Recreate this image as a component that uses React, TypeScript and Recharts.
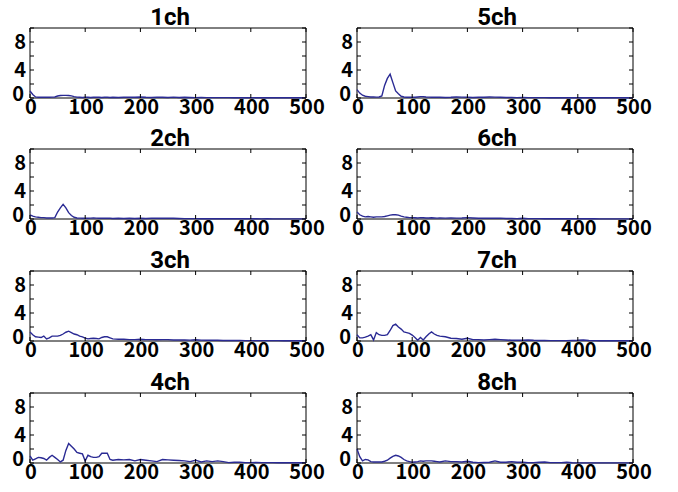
import React from 'react';
import { LineChart, Line, XAxis, YAxis, ReferenceArea } from 'recharts';

// x positions (frequency bins)
const xs = [
  0, 5, 10, 15, 20, 25, 30, 35, 40, 45, 50,
  55, 60, 65, 70, 75, 80, 85, 90, 95, 100,
  105, 110, 115, 120, 125, 130, 135, 140, 145, 150,
  160, 170, 180, 190, 200, 210, 220, 230, 240, 250,
  260, 270, 280, 290, 300, 310, 320, 330, 340, 350,
  360, 370, 380, 390, 400, 410, 420, 430, 440, 450,
  460, 470, 480, 490, 500,
];

const ch1 = [
  1.0, 0.5, 0.15, 0.1, 0.1, 0.12, 0.1, 0.1, 0.12, 0.15, 0.28,
  0.35, 0.38, 0.38, 0.35, 0.3, 0.2, 0.12, 0.1, 0.08, 0.1,
  0.1, 0.08, 0.1, 0.12, 0.1, 0.08, 0.1, 0.1, 0.08, 0.1,
  0.08, 0.1, 0.12, 0.1, 0.15, 0.1, 0.08, 0.1, 0.1, 0.08,
  0.12, 0.08, 0.1, 0.08, 0.06, 0.08, 0.06, 0.05, 0.06, 0.05,
  0.05, 0.04, 0.05, 0.04, 0.04, 0.05, 0.04, 0.03, 0.04, 0.03,
  0.03, 0.03, 0.03, 0.03, 0.02,
];

const ch2 = [
  0.6, 0.4, 0.3, 0.25, 0.2, 0.2, 0.15, 0.15, 0.15, 0.2, 1.0,
  1.6, 2.1, 1.6, 0.9, 0.5, 0.25, 0.15, 0.12, 0.1, 0.1,
  0.1, 0.12, 0.15, 0.12, 0.1, 0.1, 0.12, 0.1, 0.1, 0.08,
  0.1, 0.08, 0.1, 0.08, 0.1, 0.08, 0.1, 0.12, 0.1, 0.12,
  0.1, 0.08, 0.06, 0.05, 0.05, 0.04, 0.05, 0.04, 0.04, 0.03,
  0.03, 0.03, 0.04, 0.03, 0.03, 0.03, 0.02, 0.03, 0.02, 0.02,
  0.02, 0.02, 0.02, 0.02, 0.02,
];

const ch3 = [
  1.3, 0.9, 0.6, 0.55, 0.5, 0.7, 0.3, 0.45, 0.7, 0.7, 0.7,
  0.8, 1.0, 1.25, 1.4, 1.2, 1.0, 0.9, 0.7, 0.6, 0.4,
  0.3, 0.35, 0.4, 0.35, 0.3, 0.5, 0.6, 0.6, 0.45, 0.3,
  0.25, 0.25, 0.2, 0.2, 0.25, 0.2, 0.2, 0.18, 0.2, 0.2,
  0.15, 0.15, 0.15, 0.12, 0.18, 0.12, 0.1, 0.1, 0.1, 0.08,
  0.08, 0.08, 0.07, 0.06, 0.06, 0.06, 0.05, 0.05, 0.05, 0.05,
  0.04, 0.04, 0.04, 0.04, 0.03,
];

const ch4 = [
  1.0, 0.4, 0.6, 0.8, 0.75, 0.65, 0.4, 0.8, 1.1, 0.8, 0.5,
  0.15, 0.4, 1.8, 2.8, 2.4, 2.0, 1.5, 1.4, 1.3, 0.3,
  1.1, 0.9, 0.8, 0.8, 0.9, 1.4, 1.4, 1.4, 0.5, 0.4,
  0.5, 0.45, 0.5, 0.3, 0.5, 0.4, 0.3, 0.2, 0.5, 0.45,
  0.4, 0.35, 0.3, 0.2, 0.4, 0.15, 0.3, 0.2, 0.3, 0.2,
  0.05, 0.1, 0.1, 0.05, 0.05, 0.08, 0.05, 0.05, 0.05, 0.04,
  0.03, 0.03, 0.03, 0.03, 0.03,
];

const ch5 = [
  1.2, 0.7, 0.4, 0.25, 0.2, 0.15, 0.15, 0.12, 0.15, 0.3, 1.8,
  2.8, 3.4, 2.2, 1.0, 0.6, 0.25, 0.15, 0.1, 0.1, 0.1,
  0.1, 0.15, 0.2, 0.2, 0.15, 0.12, 0.1, 0.1, 0.1, 0.1,
  0.08, 0.1, 0.15, 0.12, 0.1, 0.08, 0.1, 0.1, 0.15, 0.12,
  0.1, 0.08, 0.08, 0.06, 0.08, 0.06, 0.05, 0.05, 0.05, 0.04,
  0.04, 0.04, 0.04, 0.03, 0.03, 0.03, 0.03, 0.03, 0.03, 0.03,
  0.03, 0.03, 0.03, 0.03, 0.02,
];

const ch6 = [
  1.0, 0.6, 0.4, 0.3, 0.35, 0.3, 0.25, 0.3, 0.3, 0.3, 0.35,
  0.45, 0.55, 0.6, 0.6, 0.55, 0.4, 0.3, 0.25, 0.2, 0.2,
  0.18, 0.15, 0.2, 0.18, 0.15, 0.15, 0.18, 0.15, 0.12, 0.15,
  0.12, 0.15, 0.12, 0.15, 0.2, 0.15, 0.1, 0.1, 0.12, 0.1,
  0.12, 0.08, 0.08, 0.06, 0.1, 0.06, 0.05, 0.05, 0.04, 0.04,
  0.04, 0.04, 0.03, 0.03, 0.03, 0.03, 0.03, 0.03, 0.02, 0.02,
  0.02, 0.02, 0.02, 0.02, 0.02,
];

const ch7 = [
  0.9, 0.45, 0.45, 0.55, 0.7, 0.9, 0.15, 1.2, 0.9, 0.8, 0.8,
  0.9, 1.5, 2.2, 2.4, 2.0, 1.7, 1.3, 1.2, 1.1, 0.85,
  0.5, 0.1, 0.5, 0.15, 0.6, 1.0, 1.3, 1.0, 0.8, 0.7,
  0.6, 0.4, 0.35, 0.25, 0.4, 0.2, 0.2, 0.15, 0.2, 0.25,
  0.2, 0.15, 0.1, 0.1, 0.1, 0.15, 0.1, 0.08, 0.08, 0.06,
  0.06, 0.05, 0.05, 0.08, 0.1, 0.15, 0.08, 0.05, 0.04, 0.04,
  0.03, 0.03, 0.03, 0.03, 0.02,
];

const ch8 = [
  2.0, 0.9, 0.3, 0.5, 0.45, 0.2, 0.15, 0.15, 0.15, 0.15, 0.25,
  0.4, 0.7, 0.95, 1.1, 1.0, 0.8, 0.5, 0.3, 0.2, 0.1,
  0.15, 0.2, 0.3, 0.25, 0.3, 0.3, 0.3, 0.25, 0.2, 0.15,
  0.3, 0.2, 0.2, 0.15, 0.25, 0.1, 0.05, 0.08, 0.1, 0.3,
  0.1, 0.1, 0.2, 0.1, 0.1, 0.05, 0.05, 0.1, 0.15, 0.05,
  0.05, 0.05, 0.1, 0.03, 0.02, 0.02, 0.02, 0.02, 0.02, 0.02,
  0.02, 0.02, 0.02, 0.02, 0.02,
];

const titles = ['1ch', '2ch', '3ch', '4ch', '5ch', '6ch', '7ch', '8ch'];
const series = [ch1, ch2, ch3, ch4, ch5, ch6, ch7, ch8];

const xTicks = [0, 100, 200, 300, 400, 500];
const yTicks = [0, 2, 4, 6, 8, 10];
const yLabelValues = [0, 4, 8];

// layout
const PLOT_W = 276;
const PLOT_H = 70;
const AXIS_W = 1; // y axis band width
const AXIS_H = 1; // x axis band height
const ML = 31; // chart margin left (plot starts at ML + AXIS_W)
const MT = 28;
const MR = 30;
const MB = 21;
const colLefts = [30, 357];
const rowTops = [28, 149, 271, 393];

const FONT = "'Noto Sans CJK JP', 'Noto Sans', sans-serif";
const TITLE_FONT = "Roboto, 'Noto Sans', sans-serif";
const LINE_COLOR = '#2a2a94';

function Panel({ title, values, plotLeft, plotTop }: { title: string; values: number[]; plotLeft: number; plotTop: number }) {
  const data = xs.map((x, i) => ({ x, v: values[i] }));
  const W = PLOT_W + ML + AXIS_W + MR;
  const H = PLOT_H + MT + AXIS_H + MB;
  const left = ML + AXIS_W;
  const right = left + PLOT_W;
  const top = MT;
  const bottom = MT + PLOT_H;
  const lift = Math.min(10, plotTop - top); // room above the panel box for the title svg

  const XTick = (p: any) => (
    <g>
      <line x1={p.x} x2={p.x} y1={bottom} y2={bottom - 4} stroke="#000" strokeWidth={1} />
      <line x1={p.x} x2={p.x} y1={top} y2={top + 4} stroke="#000" strokeWidth={1} />
      <text x={p.x + 1} y={bottom + 16} textAnchor="middle" fontFamily={FONT} fontWeight={700} fontSize={20} fill="#000">
        {p.payload.value}
      </text>
    </g>
  );

  const YTick = (p: any) => {
    const v = p.payload.value;
    return (
      <g>
        <line x1={left} x2={left + 4} y1={p.y} y2={p.y} stroke="#000" strokeWidth={1} />
        <line x1={right} x2={right - 4} y1={p.y} y2={p.y} stroke="#000" strokeWidth={1} />
        {yLabelValues.includes(v) ? (
          <text x={v === 0 ? left - 6 : left - 4} y={p.y} dy={v === 0 ? 3 : 7} textAnchor="end" fontFamily={FONT} fontWeight={700} fontSize={20} fill="#000">
            {v}
          </text>
        ) : null}
      </g>
    );
  };

  return (
    <div style={{ position: 'absolute', left: plotLeft - left, top: plotTop - top, width: W, height: H }}>
      <LineChart width={W} height={H} data={data} margin={{ top: MT, right: MR, bottom: MB, left: ML }}>
        <XAxis
          dataKey="x"
          type="number"
          domain={[0, 500]}
          ticks={xTicks}
          interval={0}
          height={AXIS_H}
          tickSize={0}
          tickMargin={0}
          axisLine={false}
          tickLine={false}
          tick={XTick}
        />
        <YAxis
          type="number"
          domain={[0, 10]}
          ticks={yTicks}
          interval={0}
          width={AXIS_W}
          tickSize={0}
          tickMargin={0}
          axisLine={false}
          tickLine={false}
          tick={YTick}
        />
        <ReferenceArea x1={0} x2={500} y1={0} y2={10} fill="none" fillOpacity={0} stroke="#000" strokeWidth={1} strokeOpacity={1} />
        <Line
          type="linear"
          dataKey="v"
          stroke={LINE_COLOR}
          strokeWidth={1.4}
          dot={false}
          activeDot={false}
          isAnimationActive={false}
        />
      </LineChart>
      <svg width={W} height={H + lift} style={{ position: 'absolute', left: 0, top: -lift, pointerEvents: 'none' }}>
        <text x={left + PLOT_W / 2 + 2} y={top + lift - 3} textAnchor="middle" fontFamily={TITLE_FONT} fontWeight={700} fontSize={24} fill="#000">
          {title}
        </text>
      </svg>
    </div>
  );
}

export default function App() {
  return (
    <div style={{ position: 'absolute', left: 0, top: 0, width: 678, height: 492, background: '#fff' }}>
      {titles.map((t, i) => {
        const col = Math.floor(i / 4);
        const row = i % 4;
        return <Panel key={t} title={t} values={series[i]} plotLeft={colLefts[col]} plotTop={rowTops[row]} />;
      })}
    </div>
  );
}
